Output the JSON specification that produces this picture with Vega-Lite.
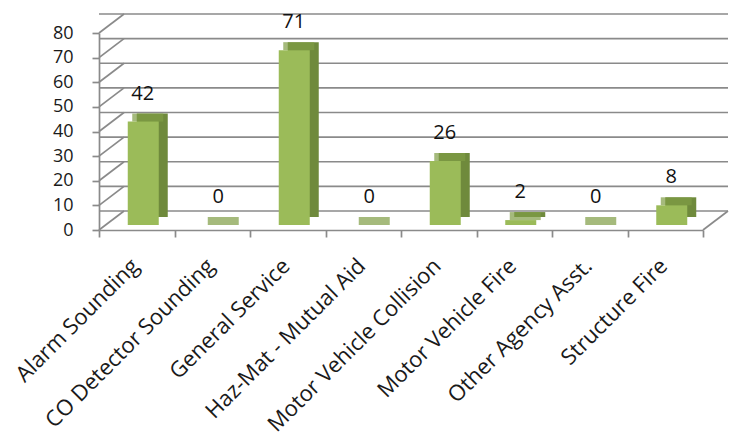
{
  "$schema": "https://vega.github.io/schema/vega-lite/v6.json",
  "width": 604,
  "height": 197,
  "autosize": {"type": "none"},
  "padding": {"left": 99, "top": 33, "right": 29, "bottom": 211},
  "background": "white",
  "config": {
    "view": {"stroke": null},
    "font": "Open Sans"
  },
  "datasets": {
    "calls": [
      {"type": "Alarm Sounding", "n": 42},
      {"type": "CO Detector Sounding", "n": 0},
      {"type": "General Service", "n": 71},
      {"type": "Haz-Mat - Mutual Aid", "n": 0},
      {"type": "Motor Vehicle Collision", "n": 26},
      {"type": "Motor Vehicle Fire", "n": 2},
      {"type": "Other Agency Asst.", "n": 0},
      {"type": "Structure Fire", "n": 8}
    ],
    "grid": [{"n": 0}, {"n": 10}, {"n": 20}, {"n": 30}, {"n": 40}, {"n": 50}, {"n": 60}, {"n": 70}, {"n": 80}]
  },
  "resolve": {"scale": {"x": "independent"}},
  "encoding": {
    "y": {
      "field": "n", "type": "quantitative",
      "scale": {"domain": [0, 80], "nice": false},
      "axis": {
        "values": [0, 10, 20, 30, 40, 50, 60, 70, 80],
        "grid": false, "title": null, "labelOverlap": false,
        "domainColor": "#8a8a8a", "domainWidth": 1.7,
        "tickColor": "#8a8a8a", "tickWidth": 1.7, "tickSize": 7,
        "labelPadding": 19, "labelFontSize": 18, "labelColor": "#1a1a1a", "labelFont": "Open Sans"
      }
    }
  },
  "layer": [
    {
      "data": {"name": "grid"},
      "mark": {"type": "rule", "color": "#8a8a8a", "strokeWidth": 1.7, "xOffset": 25, "x2Offset": 25, "yOffset": -19}
    },
    {
      "data": {"name": "grid"},
      "mark": {"type": "rule", "color": "#8a8a8a", "strokeWidth": 1.7, "x2Offset": 25, "y2Offset": -19},
      "encoding": {
        "x": {"datum": 0, "type": "quantitative", "scale": {"domain": [0, 8]}, "axis": null},
        "x2": {"datum": 0},
        "y2": {"field": "n"}
      }
    },
    {
      "data": {"name": "grid"},
      "transform": [{"filter": "datum.n == 0"}],
      "mark": {"type": "rule", "color": "#8a8a8a", "strokeWidth": 1.7, "x2Offset": 25, "y2Offset": -19},
      "encoding": {
        "x": {"datum": 8, "type": "quantitative", "scale": {"domain": [0, 8]}, "axis": null},
        "x2": {"datum": 8},
        "y2": {"field": "n"}
      }
    },
    {
      "data": {"name": "calls"},
      "layer": [
        {
          "mark": {"type": "bar", "color": "#6f8a3c", "width": 31, "xOffset": 15.5, "x2Offset": 15.5, "yOffset": -13, "y2Offset": -9},
          "encoding": {
            "x": {
              "field": "type", "type": "nominal", "sort": null,
              "scale": {"paddingInner": 0, "paddingOuter": 0},
              "axis": {
                "title": null, "labelAngle": -45, "tickBand": "extent",
                "domainColor": "#8a8a8a", "domainWidth": 1.7,
                "tickColor": "#8a8a8a", "tickWidth": 1.7, "tickSize": 7,
                "labelPadding": 18, "labelOffset": -9, "labelFontSize": 22, "labelColor": "#1a1a1a", "labelFont": "Open Sans",
                "labelLimit": 300
              }
            }
          }
        },
        {
          "mark": {"type": "tick", "color": "#7f9c44", "size": 31, "thickness": 8, "xOffset": 11, "yOffset": -9},
          "encoding": {
            "x": {"field": "type", "type": "nominal", "sort": null}
          }
        },
        {
          "mark": {"type": "bar", "color": "#9bbb59", "width": 31, "xOffset": 6.5, "x2Offset": 6.5, "yOffset": -5, "y2Offset": -5},
          "encoding": {
            "x": {"field": "type", "type": "nominal", "sort": null}
          }
        },
        {
          "mark": {"type": "text", "fontSize": 20, "color": "#111111", "font": "Open Sans", "baseline": "middle", "dx": 6, "dy": -33},
          "encoding": {
            "x": {"field": "type", "type": "nominal", "sort": null},
            "text": {"field": "n", "type": "quantitative"}
          }
        }
      ]
    }
  ]
}
